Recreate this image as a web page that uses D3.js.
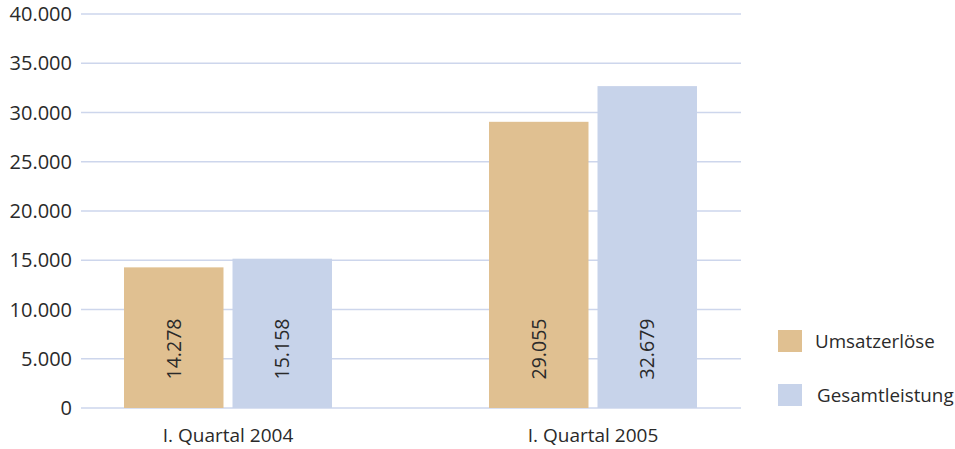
<!DOCTYPE html>
<html>
<head>
<meta charset="utf-8">
<script src="https://cdn.jsdelivr.net/npm/d3@7"></script>
<style>
  body { margin: 0; background: #fff; }
  text { font-family: "Open Sans", "Noto Sans", sans-serif; fill: #2a2a2a; }
</style>
</head>
<body>
<script>
var width = 955, height = 449;

// data
var categories = ["I. Quartal 2004", "I. Quartal 2005"];
var seriesNames = ["Umsatzerlöse", "Gesamtleistung"];
var umsatz = [14278, 29055];
var gesamt = [15158, 32679];
var yTicks = [0, 5000, 10000, 15000, 20000, 25000, 30000, 35000, 40000];

var colors = ["#e0c091", "#c7d3ea"];
var gridColor = "#cdd6ec";

var svg = d3.select("body").append("svg")
    .attr("width", width)
    .attr("height", height);

var y = d3.scaleLinear().domain([0, 40000]).range([408, 14]);
var x = d3.scaleBand().domain(categories).range([45.5, 775.5]);
var xSub = d3.scaleBand().domain(seriesNames).range([0, 208]).paddingInner(0.083);

var fmt = function(v) { return d3.format(",")(v).replace(/,/g, "."); };

// grid lines
svg.append("g")
    .selectAll("line")
    .data(yTicks)
    .enter().append("line")
    .attr("x1", 81).attr("x2", 741)
    .attr("y1", function(d) { return y(d); })
    .attr("y2", function(d) { return y(d); })
    .attr("stroke", gridColor)
    .attr("stroke-width", 1.5);

// y labels
svg.append("g")
    .selectAll("text")
    .data(yTicks)
    .enter().append("text")
    .attr("x", 72)
    .attr("y", function(d) { return y(d); })
    .attr("dy", "0.35em")
    .attr("text-anchor", "end")
    .attr("font-size", 20)
    .text(function(d) { return fmt(d); });

var rows = categories.map(function(c, i) {
  return { cat: c, values: [umsatz[i], gesamt[i]] };
});

var groups = svg.append("g")
    .selectAll("g")
    .data(rows)
    .enter().append("g")
    .attr("transform", function(d) {
      return "translate(" + (x(d.cat) + x.bandwidth() / 2 - 104) + ",0)";
    });

var bars = groups.selectAll("g")
    .data(function(d) {
      return d.values.map(function(v, i) { return { name: seriesNames[i], value: v, i: i }; });
    })
    .enter().append("g");

bars.append("rect")
    .attr("x", function(d) { return xSub(d.name); })
    .attr("width", xSub.bandwidth())
    .attr("y", function(d) { return y(d.value); })
    .attr("height", function(d) { return y(0) - y(d.value); })
    .attr("fill", function(d) { return colors[d.i]; });

bars.append("text")
    .attr("transform", function(d) {
      return "translate(" + (xSub(d.name) + xSub.bandwidth() / 2) + ",349) rotate(-90)";
    })
    .attr("text-anchor", "middle")
    .attr("dy", "0.35em")
    .attr("font-size", 19.5)
    .text(function(d) { return fmt(d.value); });

// x labels
svg.append("g")
    .selectAll("text")
    .data(categories)
    .enter().append("text")
    .attr("x", function(d) { return x(d) + x.bandwidth() / 2; })
    .attr("y", 442)
    .attr("text-anchor", "middle")
    .attr("font-size", 19)
    .text(function(d) { return d; });

// legend
var legend = svg.append("g")
    .selectAll("g")
    .data(seriesNames)
    .enter().append("g")
    .attr("transform", function(d, i) { return "translate(778," + (330 + i * 54) + ")"; });

legend.append("rect")
    .attr("width", 24)
    .attr("height", 22)
    .attr("fill", function(d, i) { return colors[i]; });

legend.append("text")
    .attr("x", function(d, i) { return i == 0 ? 37 : 39; })
    .attr("y", 11)
    .attr("dy", "0.35em")
    .attr("font-size", 18.8)
    .text(function(d) { return d; });
</script>
</body>
</html>
